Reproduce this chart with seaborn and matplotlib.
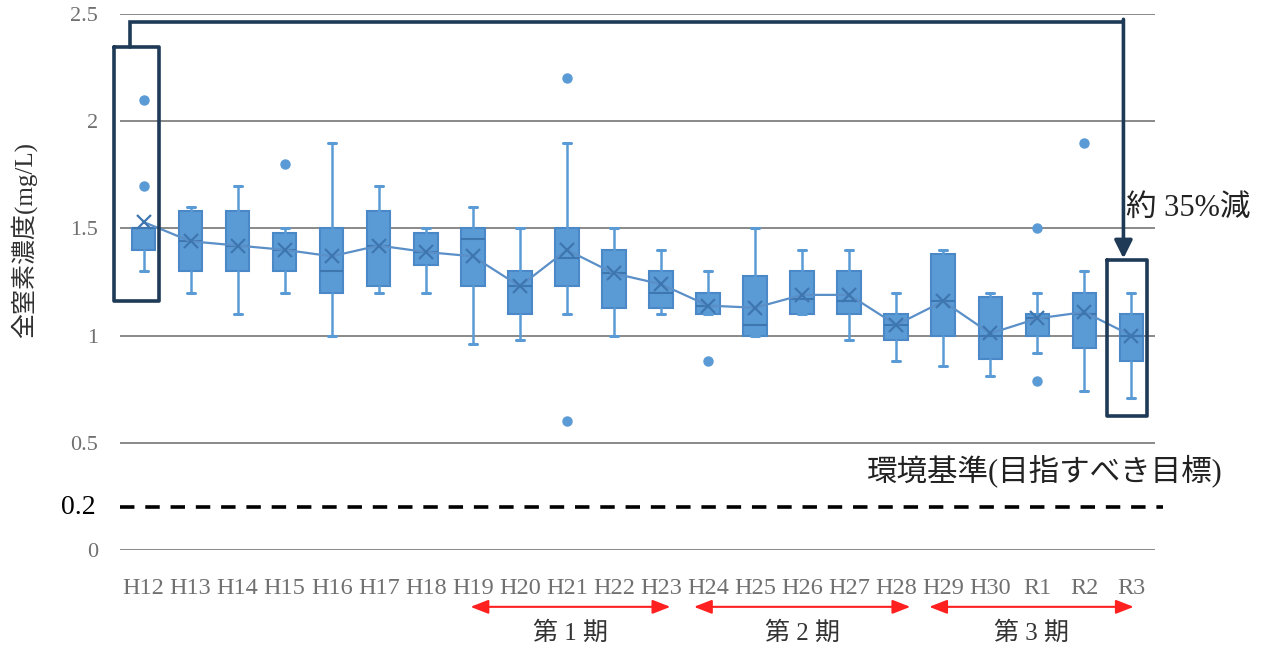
import matplotlib
matplotlib.use("Agg")
import matplotlib.pyplot as plt
import matplotlib.transforms as mtransforms
import seaborn as sns

# === DATA ===
years = ["H12", "H13", "H14", "H15", "H16", "H17", "H18", "H19", "H20", "H21", "H22",
         "H23", "H24", "H25", "H26", "H27", "H28", "H29", "H30", "R1", "R2", "R3"]
q1 = [1.40, 1.30, 1.30, 1.30, 1.20, 1.23, 1.33, 1.23, 1.10, 1.23, 1.13,
      1.13, 1.10, 1.00, 1.10, 1.10, 0.98, 1.00, 0.89, 1.00, 0.94, 0.88]
median = [1.50, 1.44, 1.42, 1.40, 1.30, 1.42, 1.39, 1.45, 1.23, 1.36, 1.29,
          1.20, 1.14, 1.05, 1.17, 1.16, 1.05, 1.16, 1.00, 1.08, 1.10, 1.00]
q3 = [1.50, 1.58, 1.58, 1.48, 1.50, 1.58, 1.48, 1.50, 1.30, 1.50, 1.40,
      1.30, 1.20, 1.28, 1.30, 1.30, 1.10, 1.38, 1.18, 1.10, 1.20, 1.10]
whisker_low = [1.30, 1.20, 1.10, 1.20, 1.00, 1.20, 1.20, 0.96, 0.98, 1.10, 1.00,
               1.10, 1.10, 1.00, 1.10, 0.98, 0.88, 0.86, 0.81, 0.92, 0.74, 0.71]
whisker_high = [1.50, 1.60, 1.70, 1.50, 1.90, 1.70, 1.50, 1.60, 1.50, 1.90, 1.50,
                1.40, 1.30, 1.50, 1.40, 1.40, 1.20, 1.40, 1.20, 1.20, 1.30, 1.20]
mean = [1.53, 1.44, 1.42, 1.40, 1.37, 1.42, 1.39, 1.37, 1.23, 1.40, 1.29,
        1.24, 1.14, 1.13, 1.19, 1.19, 1.05, 1.16, 1.01, 1.08, 1.11, 1.00]
outliers = [[2.10, 1.70], [], [], [1.80], [], [], [], [], [], [2.20, 0.60], [],
            [], [0.88], [], [], [], [], [], [], [1.50, 0.79], [1.90], []]

y_ticks = [0, 0.5, 1, 1.5, 2, 2.5]
standard = 0.2
periods = ["第 1 期", "第 2 期", "第 3 期"]

# === STYLE ===
sns.set_theme(style="white")
plt.rcParams["font.family"] = ["Liberation Serif", "Noto Sans CJK JP", "DejaVu Sans"]

BLUE = "#5B9BD5"
EDGE = "#4A88C7"
DARK = "#3E76B0"
NAVY = "#1E3A56"
GRID = "#808080"
CJK = ["Liberation Serif", "Noto Sans CJK JP"]

fig = plt.figure(figsize=(12.71, 6.48), dpi=100)
ax = fig.add_axes([0.0944, 0.1512, 0.8143, 0.8272])

# boxes from the summary stats
stats = []
for i in range(len(years)):
    stats.append(dict(label=years[i], q1=q1[i], med=median[i], q3=q3[i],
                      whislo=whisker_low[i], whishi=whisker_high[i],
                      fliers=outliers[i], mean=mean[i]))

ax.bxp(stats, positions=list(range(len(years))), widths=0.5, patch_artist=True,
       showfliers=True, showmeans=False,
       boxprops=dict(facecolor=BLUE, edgecolor=EDGE, linewidth=1.5),
       medianprops=dict(color=DARK, linewidth=1.5),
       whiskerprops=dict(color=BLUE, linewidth=1.8),
       capprops=dict(color=BLUE, linewidth=2.2),
       capwidths=0.17,
       flierprops=dict(marker="o", markerfacecolor=BLUE, markeredgecolor=BLUE,
                       markersize=6.5),
       zorder=3)

# means joined by a line
sns.pointplot(x=years, y=mean, ax=ax, color="#5A8FC8", markers="x",
              linestyles="-", errorbar=None, markersize=10, linewidth=1.6,
              zorder=4)
for ln in ax.lines[-1:]:
    ln.set_markeredgecolor(DARK)
    ln.set_markeredgewidth(1.6)

# axes
ax.set_xlim(-0.5, len(years) - 0.5)
ax.set_ylim(0, 2.5)
ax.set_yticks(y_ticks)
ax.set_yticklabels(["0", "0.5", "1", "1.5", "2", "2.5"], color="#707070", fontsize=16)
ax.set_xticks(range(len(years)))
ax.set_xticklabels(years, color="#707070", fontsize=17.5)
ax.tick_params(axis="x", length=0, pad=20)
ax.tick_params(axis="y", length=0, pad=16)
for s in ax.spines.values():
    s.set_visible(False)
for t in y_ticks:
    ax.axhline(t, color=GRID, linewidth=1.3, zorder=1)
ax.set_xlabel("")
ax.set_ylabel("全窒素濃度(mg/L)", fontsize=18, color="#303030", family=CJK)
ax.yaxis.set_label_coords(-0.080, 0.578)

# environmental standard
ax.axhline(standard, xmin=0, xmax=1.008, color="black", linewidth=2.6,
           linestyle=(0, (4, 3)), zorder=2, clip_on=False)
ax.text(-0.024, standard, "0.2", transform=mtransforms.blended_transform_factory(ax.transAxes, ax.transData),
        ha="right", va="center", fontsize=20, color="black")
ax.text(22.95, 0.37, "環境基準(目指すべき目標)", ha="right", va="center",
        fontsize=22, color="#222222", family=CJK)

# H12 -> R3 bracket
ax.plot([-0.62, 0.32, 0.32, -0.62, -0.62], [2.346, 2.346, 1.161, 1.161, 2.346],
        color=NAVY, linewidth=2.6, clip_on=False, zorder=5)
ax.plot([20.49, 21.34, 21.34, 20.49, 20.49], [1.353, 1.353, 0.625, 0.625, 1.353],
        color=NAVY, linewidth=2.6, clip_on=False, zorder=5)
ax.plot([-0.28, -0.28, 20.83], [2.346, 2.463, 2.463], color=NAVY, linewidth=2.6,
        clip_on=False, zorder=5, solid_joinstyle="miter")
ax.annotate("", xy=(20.83, 1.36), xytext=(20.83, 2.475),
            arrowprops=dict(arrowstyle="-|>,head_length=0.9,head_width=0.45",
                            color=NAVY, linewidth=2.6, shrinkA=0, shrinkB=0),
            annotation_clip=False, zorder=5)
ax.text(20.88, 1.595, "約 35%減", ha="left", va="center", fontsize=22,
        color="#222222", family=CJK)

# period arrows under the axis
trans = mtransforms.blended_transform_factory(ax.transData, ax.transAxes)
spans = [(6.95, 11.2), (11.7, 16.3), (16.7, 21.05)]
for (a, b), label in zip(spans, periods):
    ax.annotate("", xy=(a, -0.106), xytext=(b, -0.106), xycoords=trans, textcoords=trans,
                arrowprops=dict(arrowstyle="<|-|>,head_length=0.9,head_width=0.35",
                                color="#FF2020", linewidth=1.5, shrinkA=0, shrinkB=0),
                annotation_clip=False)
    ax.text((a + b) / 2, -0.155, label, transform=trans, ha="center", va="center",
            fontsize=18, color="#333333", family=CJK)

fig.savefig("out.png", dpi=100)
